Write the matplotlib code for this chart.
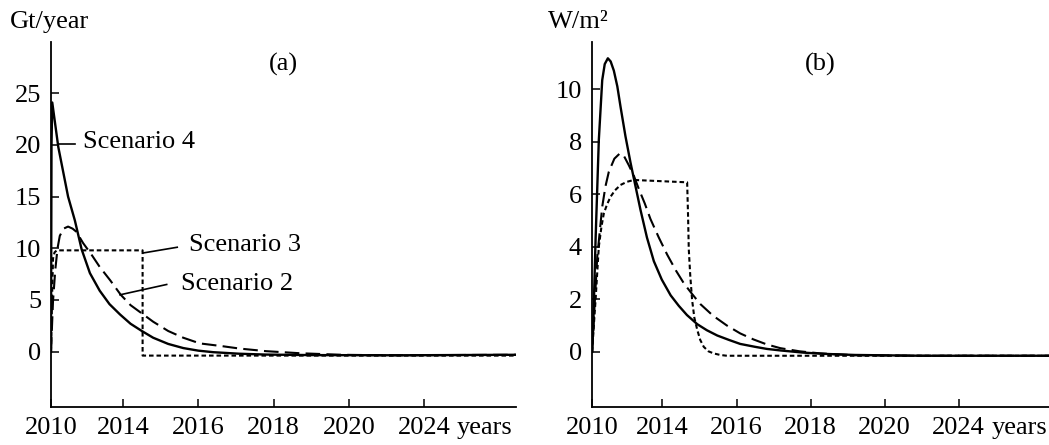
import numpy as np
import matplotlib
matplotlib.use("Agg")
import matplotlib.pyplot as plt

plt.rcParams['font.family'] = ['Liberation Serif', 'DejaVu Serif']
plt.rcParams['font.size'] = 19

# Oś x: pozycje podziałek (jednostki rysunku) i ich podpisy
x_ticks = [0.045, 1, 2, 3, 4, 5]
x_labels = ["2010", "2014", "2016", "2018", "2020", "2024"]

# (a) emisje, Gt/year
a_s4_x = [0.043, 0.05, 0.06, 0.14, 0.27, 0.36, 0.45, 0.56, 0.69, 0.82, 0.96, 1.1, 1.25, 1.4,
          1.6, 1.8, 2.0, 2.2, 2.55, 2.9, 3.5, 4.7, 6.22]
a_s4_y = [0.0, 20.0, 24.1, 19.8, 15.0, 12.7, 9.9, 7.6, 5.9, 4.6, 3.6, 2.7, 2.0, 1.35,
          0.75, 0.35, 0.1, -0.05, -0.2, -0.28, -0.33, -0.35, -0.3]

a_s2_x = [0.043, 0.07, 0.10, 0.13, 0.16, 0.21, 0.27, 0.33, 0.38, 0.47, 0.58, 0.69, 0.83, 0.97,
          1.1, 1.25, 1.4, 1.6, 1.8, 2.02, 2.3, 2.55, 2.9, 3.35, 3.9, 4.5, 6.22]
a_s2_y = [0.0, 4.9, 7.9, 10.0, 11.2, 11.9, 12.1, 11.9, 11.6, 10.5, 9.4, 8.2, 6.9, 5.5,
          4.5, 3.7, 2.9, 2.0, 1.35, 0.8, 0.55, 0.3, 0.05, -0.15, -0.3, -0.35, -0.3]

a_s3_x = [0.043, 0.06, 0.07, 0.09, 0.12, 1.26, 1.26, 6.22]
a_s3_y = [0.0, 6.0, 9.0, 9.6, 9.8, 9.8, -0.38, -0.38]

# (b) wymuszanie radiacyjne, W/m2
b_s4_x = [0.05, 0.065, 0.096, 0.14, 0.186, 0.22, 0.262, 0.30, 0.343, 0.39, 0.433, 0.50, 0.568,
          0.613, 0.703, 0.79, 0.883, 0.99, 1.11, 1.22, 1.33, 1.47, 1.6, 1.74, 1.9, 2.05, 2.25,
          2.41, 2.6, 2.9, 3.2, 3.6, 4.5, 6.22]
b_s4_y = [0.0, 1.0, 4.25, 8.06, 10.34, 10.95, 11.17, 11.05, 10.7, 10.1, 9.33, 8.2, 7.2,
          6.6, 5.4, 4.35, 3.45, 2.75, 2.15, 1.75, 1.4, 1.05, 0.82, 0.62, 0.45, 0.3, 0.19,
          0.11, 0.05, -0.03, -0.08, -0.12, -0.15, -0.15]

b_s2_x = [0.05, 0.082, 0.119, 0.186, 0.23, 0.275, 0.35, 0.424, 0.48, 0.545, 0.613, 0.68, 0.76,
          0.838, 0.95, 1.063, 1.18, 1.29, 1.4, 1.51, 1.68, 1.87, 2.05, 2.23, 2.41, 2.59, 2.85,
          3.13, 3.6, 4.5, 6.22]
b_s2_y = [0.0, 1.71, 3.62, 5.52, 6.3, 6.85, 7.35, 7.55, 7.45, 7.1, 6.7, 6.2, 5.65,
          5.05, 4.35, 3.7, 3.1, 2.6, 2.2, 1.82, 1.38, 1.0, 0.7, 0.47, 0.28, 0.14, 0.02,
          -0.06, -0.13, -0.15, -0.15]

b_s3_x = [0.05, 0.07, 0.096, 0.14, 0.175, 0.208, 0.25, 0.298, 0.36, 0.433, 0.52, 0.613, 1.333,
          1.345, 1.355, 1.375, 1.40, 1.43, 1.47, 1.51, 1.557, 1.62, 1.69, 1.78, 1.87, 6.22]
b_s3_y = [0.0, 0.9, 1.97, 4.0, 4.75, 5.27, 5.6, 5.9, 6.15, 6.35, 6.47, 6.54, 6.45,
          5.2, 3.9, 2.9, 1.97, 1.3, 0.83, 0.45, 0.19, 0.02, -0.06, -0.12, -0.15, -0.15]

# Etykiety scenariuszy w panelu (a): tekst i odcinek wskazujący
labels_a = ["Scenario 4", "Scenario 3", "Scenario 2"]
label_pos_a = [(0.47, 20.3), (1.876, 10.3), (1.77, 6.55)]
leader_a = [((0.136, 20.1), (0.36, 20.1)), ((1.27, 9.55), (1.72, 10.1)), ((0.96, 5.5), (1.58, 6.5))]

fig = plt.figure(figsize=(10.49, 4.45), dpi=100)
ax1 = fig.add_axes([0.0486, 0.0854, 0.4433, 0.8202])
ax2 = fig.add_axes([0.564, 0.0854, 0.436, 0.8202])

lw = 1.5
for ax, s4, s2, s3 in [(ax1, (a_s4_x, a_s4_y), (a_s2_x, a_s2_y), (a_s3_x, a_s3_y)),
                       (ax2, (b_s4_x, b_s4_y), (b_s2_x, b_s2_y), (b_s3_x, b_s3_y))]:
    ax.plot(*s3, color="black", lw=lw, dashes=(2.2, 1.4))
    ax.plot(*s2, color="black", lw=lw, dashes=(7, 3))
    ax.plot(*s4, color="black", lw=lw + 0.2)
    ax.spines["top"].set_visible(False)
    ax.spines["right"].set_visible(False)
    ax.spines["left"].set_linewidth(1.3)
    ax.spines["bottom"].set_linewidth(1.3)
    ax.tick_params(direction="in", length=6, width=1.1, pad=7)
    ax.set_xticks(x_ticks)
    ax.set_xticklabels(x_labels)
    ax.set_xlim(0.043, 6.22)
    ax.annotate("years", xy=(5, 0), xycoords=ax.get_xaxis_transform(),
                xytext=(23.5, -7), textcoords="offset points", ha="left", va="top")

ax1.set_ylim(-5.35, 29.95)
ax1.set_yticks([0, 5, 10, 15, 20, 25])
ax2.set_ylim(-2.1, 11.79)
ax2.set_yticks([0, 2, 4, 6, 8, 10])

for txt, pos, seg in zip(labels_a, label_pos_a, leader_a):
    ax1.text(pos[0], pos[1], txt, ha="left", va="center")
    ax1.plot([seg[0][0], seg[1][0]], [seg[0][1], seg[1][1]], color="black", lw=1.2)

ax1.text(3.125, 27.8, "(a)", ha="center", va="center")
ax2.text(3.13, 10.95, "(b)", ha="center", va="center")

fig.text(0.0095, 0.95, "Gt/year", ha="left", va="center")
fig.text(0.5224, 0.95, "W/m²", ha="left", va="center")

fig.savefig("out.png", dpi=100)
